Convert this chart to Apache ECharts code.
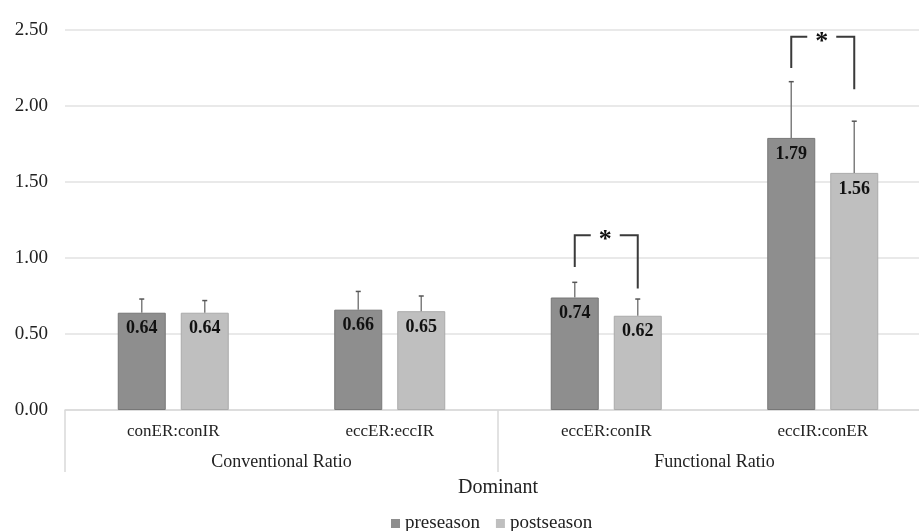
<!DOCTYPE html>
<html><head><meta charset="utf-8">
<script src="https://cdn.jsdelivr.net/npm/echarts@6/dist/echarts.min.js"></script>
<style>html,body{margin:0;padding:0;background:#fff;overflow:hidden;width:919px;height:531px}#c{width:940px;height:531px}</style>
</head><body><div id="c"></div>
<script>
const categories = ['conER:conIR', 'eccER:eccIR', 'eccER:conIR', 'eccIR:conER'];
const groups = ['Conventional Ratio', 'Functional Ratio'];
const preseason = [0.64, 0.66, 0.74, 1.79];
const postseason = [0.64, 0.65, 0.62, 1.56];
const preSD = [0.09, 0.12, 0.10, 0.37];
const postSD = [0.08, 0.10, 0.11, 0.34];
const yTicks = [0, 0.5, 1.0, 1.5, 2.0, 2.5];
// significance brackets: [category index, left leg bottom, bracket top, right leg bottom]
const brackets = [[2, 0.94, 1.15, 0.80], [3, 2.25, 2.455, 2.11]];

const FONT = '"Liberation Serif", "Times New Roman", serif';
const BAR_W = 48, BAR_GAP = 15, HALF = (BAR_W + BAR_GAP) / 2;

const chart = echarts.init(document.getElementById('c'));

function errRender(side) {
  return function (params, api) {
    const i = api.value(0), v = api.value(1), sd = api.value(2);
    const p0 = api.coord([i, v]), p1 = api.coord([i, v + sd]);
    const x = p0[0] + side * HALF;
    return {
      type: 'group',
      children: [
        {type: 'line', shape: {x1: x, y1: p0[1], x2: x, y2: p1[1]}, style: {stroke: '#7f7f7f', lineWidth: 1.5}},
        {type: 'line', shape: {x1: x - 2.5, y1: p1[1], x2: x + 2.5, y2: p1[1]}, style: {stroke: '#555', lineWidth: 1.5}}
      ]
    };
  };
}

function bracketRender(params, api) {
  const i = api.value(0);
  const c = api.coord([i, api.value(2)]);
  const xL = c[0] - HALF, xR = c[0] + HALF, yT = c[1];
  const yL = api.coord([i, api.value(1)])[1];
  const yR = api.coord([i, api.value(3)])[1];
  const st = {stroke: '#3a3a3a', lineWidth: 2, fill: null};
  return {
    type: 'group',
    children: [
      {type: 'polyline', shape: {points: [[xL, yL], [xL, yT], [xL + 16, yT]]}, style: st},
      {type: 'polyline', shape: {points: [[xR - 18, yT], [xR, yT], [xR, yR]]}, style: st},
      {type: 'text', style: {text: '*', x: c[0] - 1, y: yT + 5, align: 'center', verticalAlign: 'middle',
        font: 'bold 26px ' + FONT, fill: '#111'}}
    ]
  };
}

const labelCfg = {show: true, position: 'insideTop', distance: 7, fontFamily: FONT, fontWeight: 'bold',
  fontSize: 18, color: '#111', formatter: p => p.value.toFixed(2)};

chart.setOption({
  animation: false,
  backgroundColor: '#fff',
  grid: {left: 65, top: 30, width: 866, height: 380, containLabel: false},
  legend: {
    data: ['preseason', 'postseason'], left: 386, top: 509, icon: 'rect', itemWidth: 9, itemHeight: 9,
    itemGap: 16, itemStyle: {borderWidth: 0}, textStyle: {fontFamily: FONT, fontSize: 19, color: '#222'}
  },
  xAxis: [
    {type: 'category', data: categories, position: 'bottom',
     axisLine: {lineStyle: {color: '#d9d9d9', width: 1.5}}, axisTick: {show: false},
     axisLabel: {margin: 13, fontFamily: FONT, fontSize: 17, color: '#222'},
     name: 'Dominant', nameLocation: 'middle', nameGap: 68,
     nameTextStyle: {fontFamily: FONT, fontSize: 20, color: '#222'}},
    {type: 'category', data: groups, position: 'bottom', offset: 0,
     axisLine: {show: false},
     axisTick: {show: true, length: 62, lineStyle: {color: '#d9d9d9', width: 1.5}},
     axisLabel: {margin: 43, fontFamily: FONT, fontSize: 18, color: '#222'}}
  ],
  yAxis: {type: 'value', min: yTicks[0], max: yTicks[yTicks.length - 1], interval: 0.5,
    axisLine: {show: false}, axisTick: {show: false},
    axisLabel: {margin: 17, fontFamily: FONT, fontSize: 19, color: '#222', formatter: v => v.toFixed(2)},
    splitLine: {lineStyle: {color: '#e2e2e2', width: 1.5}}},
  series: [
    {name: 'preseason', type: 'bar', data: preseason, barWidth: BAR_W, barGap: (BAR_GAP / BAR_W * 100) + '%',
     itemStyle: {color: '#8e8e8e', borderColor: '#777', borderWidth: 1}, label: labelCfg, z: 2},
    {name: 'postseason', type: 'bar', data: postseason, barWidth: BAR_W,
     itemStyle: {color: '#bfbfbf', borderColor: '#aaa', borderWidth: 1}, label: labelCfg, z: 2},
    {name: 'preErr', type: 'custom', renderItem: errRender(-1),
     data: preseason.map((v, i) => [i, v, preSD[i]]), encode: {x: 0, y: 1}, z: 3, silent: true},
    {name: 'postErr', type: 'custom', renderItem: errRender(1),
     data: postseason.map((v, i) => [i, v, postSD[i]]), encode: {x: 0, y: 1}, z: 3, silent: true},
    {name: 'sig', type: 'custom', renderItem: bracketRender, data: brackets, encode: {x: 0, y: 2}, z: 4, silent: true}
  ]
});
</script></body></html>
